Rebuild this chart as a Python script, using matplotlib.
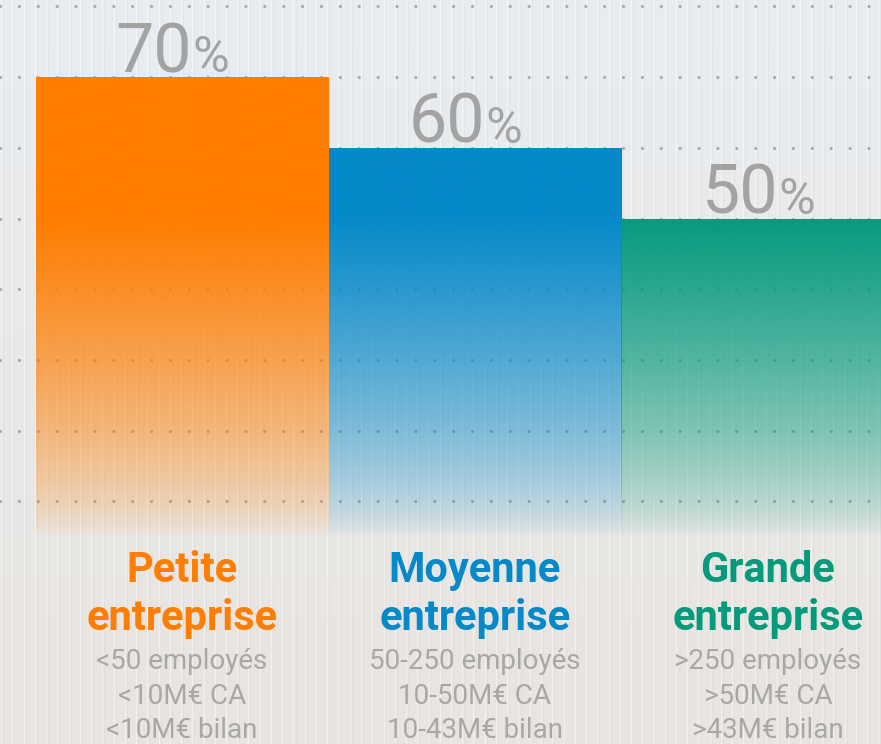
import numpy as np
import matplotlib
matplotlib.use("Agg")
import matplotlib.pyplot as plt
from matplotlib.colors import to_rgb

# data
categories = ["Petite\nentreprise", "Moyenne\nentreprise", "Grande\nentreprise"]
values = [70, 60, 50]
colors = ["#ff7d00", "#0589c9", "#069a7d"]
details = [
    ["<50 employés", "<10M€ CA", "<10M€ bilan"],
    ["50-250 employés", "10-50M€ CA", "10-43M€ bilan"],
    [">250 employés", ">50M€ CA", ">43M€ bilan"],
]
grid_values = [10, 20, 30, 40, 50, 60, 70, 80]

W, H = 881, 744
BAR_PX = 293.0          # one x unit in pixels
Y_PX = 70.7 / 10.0      # pixels per percent
ZERO_PX = 572.0         # y pixel (from top) of 0%
X0_PX = 182.0           # x pixel of first bar centre
PT = 0.72               # points per pixel at dpi 100

fig = plt.figure(figsize=(W / 100, H / 100), dpi=100)
ax = fig.add_axes([0, 0, 1, 1])
xlim = (-X0_PX / BAR_PX, (W - X0_PX) / BAR_PX)
ylim = (-(H - ZERO_PX) / Y_PX, ZERO_PX / Y_PX)
ax.set_xlim(*xlim)
ax.set_ylim(*ylim)
ax.axis("off")

# background gradient (cool grey at top, warm beige at bottom)
top = np.array(to_rgb("#e9edf1"))
bot = np.array(to_rgb("#e8e4df"))
t = np.linspace(0, 1, 256)[:, None]
bg = (top * (1 - t) + bot * t)[:, None, :]
ax.imshow(bg, extent=(xlim[0], xlim[1], ylim[0], ylim[1]), aspect="auto",
          origin="upper", zorder=0, interpolation="bicubic")

# thin vertical stripes
for px in np.arange(1, W, 11.25):
    ax.axvline(px / BAR_PX + xlim[0], color="white", lw=0.9, alpha=0.45, zorder=1)
    ax.axvline((px + 2) / BAR_PX + xlim[0], color="#cfcfd2", lw=0.6, alpha=0.25, zorder=1)

# dotted grid lines
for g in grid_values:
    ax.plot(xlim, [g, g], color="#a9a9ab", lw=2.3,
            linestyle=(0, (0.01, 5.9)), dash_capstyle="round", zorder=2)

# bars with a fade towards the bottom
x = np.arange(len(values))
bars = ax.bar(x, values, width=1.0, color="none", edgecolor="none", zorder=3)
for rect, val, col in zip(bars, values, colors):
    yy = np.linspace(val, 0, 300)
    a = np.clip((yy - 5) / (50 - 5), 0, 1) ** 0.7
    rgba = np.zeros((300, 1, 4))
    rgba[:, 0, :3] = to_rgb(col)
    rgba[:, 0, 3] = a
    im = ax.imshow(rgba, extent=(rect.get_x(), rect.get_x() + rect.get_width(), 0, val),
                   aspect="auto", origin="upper", zorder=3, interpolation="bicubic")
    im.set_clip_path(rect)

# value labels
for xi, val in zip(x, values):
    ax.annotate(f"{val}", (xi, val), xytext=(10 * PT, 5 * PT), textcoords="offset points",
                ha="right", va="baseline", fontsize=49, color="#a3a3a3",
                family="Roboto", fontweight="normal", zorder=5)
    ax.annotate("%", (xi, val), xytext=(10 * PT, 5 * PT), textcoords="offset points",
                ha="left", va="baseline", fontsize=36, color="#a3a3a3",
                family="Roboto", fontweight="normal", zorder=5)

# category labels below
trans = ax.get_xaxis_transform()
for xi, cat, col, det in zip(x, categories, colors, details):
    for k, line in enumerate(cat.split("\n")):
        yb = 582 + 48 * k
        ax.text(xi, 1 - yb / H, line, transform=trans, ha="center", va="baseline",
                fontsize=30, color=col, family="Roboto", fontweight="bold", zorder=5)
    for k, line in enumerate(det):
        yb = 669 + 34.5 * k
        ax.text(xi, 1 - yb / H, line, transform=trans, ha="center", va="baseline",
                fontsize=20, color="#a8a8a8", family="Roboto", fontweight="normal", zorder=5)

fig.savefig("out.png", dpi=100)
